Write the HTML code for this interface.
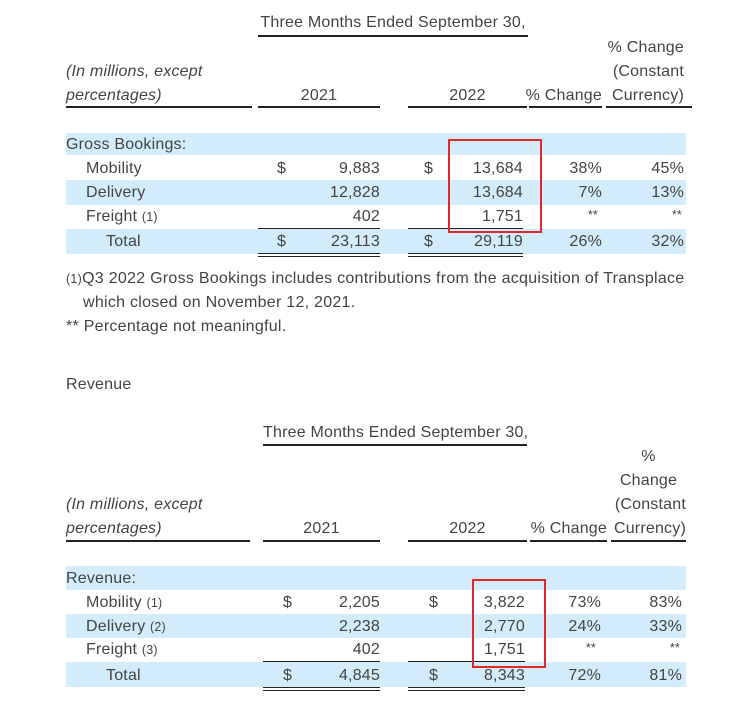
<!DOCTYPE html>
<html><head><style>
body{margin:0;width:752px;height:704px;background:#fff;position:relative;overflow:hidden;font-family:"Liberation Sans",sans-serif;font-size:16px;letter-spacing:0.2px;color:#444}
.t{position:absolute;white-space:nowrap;line-height:18px;transform:translateY(-8px)}
.r{text-align:right}
.c{text-align:center}
.b{position:absolute;background:#d2ecfb}
.l{position:absolute;height:1.5px;background:#222}
.box{position:absolute;border:2px solid #e0262b;box-sizing:border-box}
i{font-style:italic}
small{font-size:12.5px}
</style></head><body>
<!-- Table 1 -->
<div class="t c" style="left:258px;width:270px;top:22px">Three Months Ended September 30,</div>
<div class="l" style="left:258px;width:270px;top:35px"></div>
<div class="t r" style="left:590px;width:94px;top:47px">% Change</div>
<div class="t r" style="left:590px;width:94px;top:71px">(Constant</div>
<div class="t" style="left:66px;top:71px"><i>(In millions, except</i></div>
<div class="t" style="left:66px;top:95px"><i>percentages)</i></div>
<div class="t c" style="left:258px;width:122px;top:95px">2021</div>
<div class="t c" style="left:408px;width:119px;top:95px">2022</div>
<div class="t r" style="left:510px;width:92px;top:95px">% Change</div>
<div class="t r" style="left:590px;width:94px;top:95px">Currency)</div>
<div class="l" style="left:66px;width:186px;top:106px"></div>
<div class="l" style="left:258px;width:122px;top:106px"></div>
<div class="l" style="left:408px;width:119px;top:106px"></div>
<div class="l" style="left:529px;width:73px;top:106px"></div>
<div class="l" style="left:606px;width:86px;top:106px"></div>
<div class="b" style="left:66px;width:620px;top:133px;height:22px"></div>
<div class="b" style="left:66px;width:620px;top:180px;height:25px"></div>
<div class="b" style="left:66px;width:620px;top:229px;height:25px"></div>
<div class="t" style="left:66px;top:144px">Gross Bookings:</div>
<div class="t" style="left:86px;top:168px">Mobility</div>
<div class="t" style="left:86px;top:192px">Delivery</div>
<div class="t" style="left:86px;top:216px">Freight <small>(1)</small></div>
<div class="t" style="left:106px;top:241px">Total</div>
<div class="t" style="left:277px;top:168px">$</div>
<div class="t" style="left:277px;top:241px">$</div>
<div class="t" style="left:424px;top:168px">$</div>
<div class="t" style="left:424px;top:241px">$</div>
<div class="t r" style="left:300px;width:80px;top:168px">9,883</div>
<div class="t r" style="left:300px;width:80px;top:192px">12,828</div>
<div class="t r" style="left:300px;width:80px;top:216px">402</div>
<div class="t r" style="left:300px;width:80px;top:241px">23,113</div>
<div class="t r" style="left:440px;width:83px;top:168px">13,684</div>
<div class="t r" style="left:440px;width:83px;top:192px">13,684</div>
<div class="t r" style="left:440px;width:83px;top:216px">1,751</div>
<div class="t r" style="left:440px;width:83px;top:241px">29,119</div>
<div class="t r" style="left:540px;width:62px;top:168px">38%</div>
<div class="t r" style="left:540px;width:62px;top:192px">7%</div>
<div class="t r" style="left:540px;width:58px;top:214px"><small>**</small></div>
<div class="t r" style="left:540px;width:62px;top:241px">26%</div>
<div class="t r" style="left:620px;width:64px;top:168px">45%</div>
<div class="t r" style="left:620px;width:64px;top:192px">13%</div>
<div class="t r" style="left:620px;width:62px;top:214px"><small>**</small></div>
<div class="t r" style="left:620px;width:64px;top:241px">32%</div>
<div class="l" style="left:258px;width:122px;top:228px;height:1px"></div>
<div class="l" style="left:408px;width:115px;top:228px;height:1px"></div>
<div class="l" style="left:258px;width:122px;top:253px;height:1px"></div>
<div class="l" style="left:258px;width:122px;top:256px;height:1px"></div>
<div class="l" style="left:408px;width:115px;top:253px;height:1px"></div>
<div class="l" style="left:408px;width:115px;top:256px;height:1px"></div>
<div class="box" style="left:448px;top:139px;width:94px;height:94px"></div>
<div class="t" style="left:66px;top:278px;letter-spacing:0.27px"><small>(1)</small>Q3 2022 Gross Bookings includes contributions from the acquisition of Transplace</div>
<div class="t" style="left:83px;top:302px;letter-spacing:0.27px">which closed on November 12, 2021.</div>
<div class="t" style="left:66px;top:326px;letter-spacing:0.27px">** Percentage not meaningful.</div>
<div class="t" style="left:66px;top:384px">Revenue</div>
<!-- Table 2 -->
<div class="t c" style="left:263px;width:264px;top:432px">Three Months Ended September 30,</div>
<div class="l" style="left:263px;width:264px;top:444px"></div>
<div class="t c" style="left:611px;width:75px;top:456px">%</div>
<div class="t c" style="left:611px;width:75px;top:480px">Change</div>
<div class="t r" style="left:590px;width:96px;top:504px">(Constant</div>
<div class="t" style="left:66px;top:504px"><i>(In millions, except</i></div>
<div class="t" style="left:66px;top:528px"><i>percentages)</i></div>
<div class="t c" style="left:263px;width:117px;top:528px">2021</div>
<div class="t c" style="left:408px;width:119px;top:528px">2022</div>
<div class="t r" style="left:515px;width:92px;top:528px">% Change</div>
<div class="t r" style="left:590px;width:96px;top:528px">Currency)</div>
<div class="l" style="left:66px;width:184px;top:540px"></div>
<div class="l" style="left:263px;width:117px;top:540px"></div>
<div class="l" style="left:408px;width:119px;top:540px"></div>
<div class="l" style="left:530px;width:77px;top:540px"></div>
<div class="l" style="left:611px;width:75px;top:540px"></div>
<div class="b" style="left:66px;width:620px;top:566px;height:24px"></div>
<div class="b" style="left:66px;width:620px;top:614px;height:24px"></div>
<div class="b" style="left:66px;width:620px;top:662px;height:25px"></div>
<div class="t" style="left:66px;top:578px">Revenue:</div>
<div class="t" style="left:86px;top:602px">Mobility <small>(1)</small></div>
<div class="t" style="left:86px;top:626px">Delivery <small>(2)</small></div>
<div class="t" style="left:86px;top:649px">Freight <small>(3)</small></div>
<div class="t" style="left:106px;top:675px">Total</div>
<div class="t" style="left:283px;top:602px">$</div>
<div class="t" style="left:283px;top:675px">$</div>
<div class="t" style="left:429px;top:602px">$</div>
<div class="t" style="left:429px;top:675px">$</div>
<div class="t r" style="left:300px;width:80px;top:602px">2,205</div>
<div class="t r" style="left:300px;width:80px;top:626px">2,238</div>
<div class="t r" style="left:300px;width:80px;top:649px">402</div>
<div class="t r" style="left:300px;width:80px;top:675px">4,845</div>
<div class="t r" style="left:445px;width:80px;top:602px">3,822</div>
<div class="t r" style="left:445px;width:80px;top:626px">2,770</div>
<div class="t r" style="left:445px;width:80px;top:649px">1,751</div>
<div class="t r" style="left:445px;width:80px;top:675px">8,343</div>
<div class="t r" style="left:540px;width:61px;top:602px">73%</div>
<div class="t r" style="left:540px;width:61px;top:626px">24%</div>
<div class="t r" style="left:540px;width:56px;top:647px"><small>**</small></div>
<div class="t r" style="left:540px;width:61px;top:675px">72%</div>
<div class="t r" style="left:620px;width:62px;top:602px">83%</div>
<div class="t r" style="left:620px;width:62px;top:626px">33%</div>
<div class="t r" style="left:620px;width:60px;top:647px"><small>**</small></div>
<div class="t r" style="left:620px;width:62px;top:675px">81%</div>
<div class="l" style="left:263px;width:117px;top:661px;height:1px"></div>
<div class="l" style="left:408px;width:117px;top:661px;height:1px"></div>
<div class="l" style="left:263px;width:117px;top:687px;height:1px"></div>
<div class="l" style="left:263px;width:117px;top:690px;height:1px"></div>
<div class="l" style="left:408px;width:117px;top:687px;height:1px"></div>
<div class="l" style="left:408px;width:117px;top:690px;height:1px"></div>
<div class="box" style="left:472px;top:579px;width:74px;height:89px"></div>
</body></html>
